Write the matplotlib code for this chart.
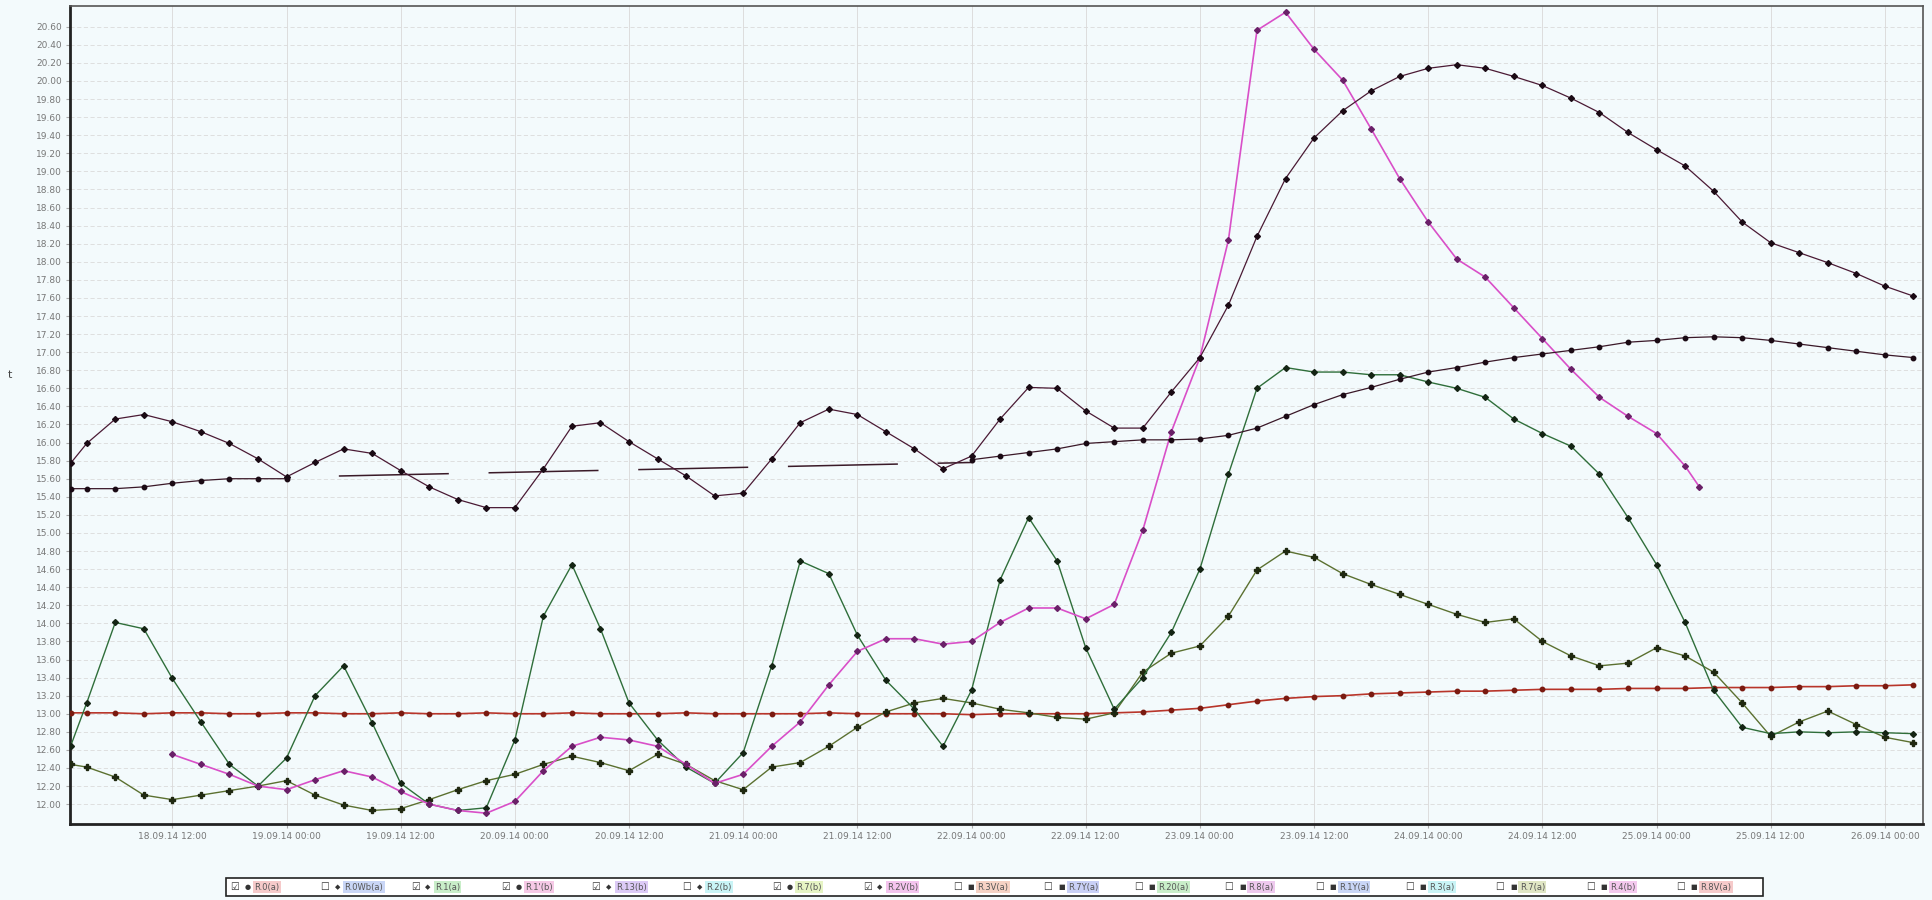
import matplotlib
matplotlib.use('Agg')
import matplotlib.pyplot as plt
from matplotlib.patches import Rectangle
import numpy as np

# ---------------------- data (hours since 18.09.14 00:00) ----------------------
hours = [1.3] + list(range(3, 196, 3))

temp_a = [15.77, 15.99, 16.26, 16.31, 16.23, 16.12, 15.99, 15.82, 15.62, 15.78,
          15.93, 15.88, 15.69, 15.51, 15.37, 15.28, 15.28, 15.71, 16.18, 16.22,
          16.01, 15.82, 15.63, 15.41, 15.44, 15.82, 16.22, 16.37, 16.31, 16.12,
          15.93, 15.71, 15.85, 16.26, 16.61, 16.60, 16.35, 16.16, 16.16, 16.56,
          16.94, 17.52, 18.28, 18.92, 19.37, 19.67, 19.89, 20.05, 20.14, 20.18,
          20.14, 20.05, 19.95, 19.81, 19.65, 19.43, 19.24, 19.06, 18.78, 18.44,
          18.21, 18.10, 17.99, 17.87, 17.73, 17.62]

hours_b1 = [1.3, 3, 6, 9, 12, 15, 18, 21, 24]
temp_b1 = [15.49, 15.49, 15.49, 15.51, 15.55, 15.58, 15.60, 15.60, 15.60]
hours_b_gap = [29.5, 96.2]
temp_b_gap = [15.63, 15.78]
hours_b2 = list(range(96, 196, 3))
temp_b2 = [15.81, 15.85, 15.89, 15.93, 15.99, 16.01, 16.03, 16.03, 16.04, 16.08,
           16.16, 16.29, 16.42, 16.53, 16.61, 16.70, 16.78, 16.83, 16.89, 16.94,
           16.98, 17.02, 17.06, 17.11, 17.13, 17.16, 17.17, 17.16, 17.13, 17.09,
           17.05, 17.01, 16.97, 16.94]

temp_c = [12.64, 13.12, 14.01, 13.94, 13.39, 12.91, 12.44, 12.20, 12.51, 13.20,
          13.53, 12.90, 12.23, 12.00, 11.93, 11.96, 12.71, 14.08, 14.65, 13.94,
          13.12, 12.71, 12.41, 12.23, 12.57, 13.53, 14.69, 14.55, 13.87, 13.37,
          13.05, 12.64, 13.26, 14.48, 15.17, 14.69, 13.73, 13.05, 13.40, 13.90,
          14.60, 15.65, 16.60, 16.83, 16.78, 16.78, 16.75, 16.75, 16.67, 16.60,
          16.50, 16.26, 16.10, 15.96, 15.65, 15.17, 14.65, 14.01, 13.26, 12.85,
          12.78, 12.80, 12.79, 12.80, 12.79, 12.78]

temp_d = [12.44, 12.41, 12.30, 12.10, 12.05, 12.10, 12.15, 12.20, 12.26, 12.10,
          11.99, 11.93, 11.95, 12.05, 12.16, 12.26, 12.33, 12.44, 12.53, 12.46,
          12.37, 12.55, 12.44, 12.26, 12.16, 12.41, 12.46, 12.64, 12.85, 13.02,
          13.12, 13.17, 13.12, 13.05, 13.01, 12.96, 12.94, 13.01, 13.46, 13.67,
          13.75, 14.08, 14.59, 14.80, 14.73, 14.55, 14.43, 14.32, 14.21, 14.10,
          14.01, 14.05, 13.80, 13.64, 13.53, 13.56, 13.73, 13.64, 13.46, 13.12,
          12.75, 12.91, 13.03, 12.88, 12.74, 12.68]

hours_e = list(range(12, 172, 3)) + [172.5]
temp_e = [12.55, 12.44, 12.33, 12.20, 12.16, 12.27, 12.37, 12.30, 12.14, 12.00,
          11.93, 11.90, 12.03, 12.37, 12.64, 12.74, 12.71, 12.64, 12.44, 12.23,
          12.33, 12.64, 12.91, 13.32, 13.69, 13.83, 13.83, 13.77, 13.80, 14.01,
          14.17, 14.17, 14.05, 14.21, 15.03, 16.12, 16.94, 18.24, 20.56, 20.76,
          20.35, 20.01, 19.47, 18.92, 18.44, 18.03, 17.83, 17.49, 17.15, 16.81,
          16.50, 16.29, 16.10, 15.74, 15.51]

temp_f = [13.01, 13.01, 13.01, 13.00, 13.01, 13.01, 13.00, 13.00, 13.01, 13.01,
          13.00, 13.00, 13.01, 13.00, 13.00, 13.01, 13.00, 13.00, 13.01, 13.00,
          13.00, 13.00, 13.01, 13.00, 13.00, 13.00, 13.00, 13.01, 13.00, 13.00,
          13.00, 13.00, 12.99, 13.00, 13.00, 13.00, 13.00, 13.01, 13.02, 13.04,
          13.06, 13.10, 13.14, 13.17, 13.19, 13.20, 13.22, 13.23, 13.24, 13.25,
          13.25, 13.26, 13.27, 13.27, 13.27, 13.28, 13.28, 13.28, 13.29, 13.29,
          13.29, 13.30, 13.30, 13.31, 13.31, 13.32]

tick_hours = list(range(12, 193, 12))
tick_labels = ['18.09.14 12:00', '19.09.14 00:00', '19.09.14 12:00', '20.09.14 00:00',
               '20.09.14 12:00', '21.09.14 00:00', '21.09.14 12:00', '22.09.14 00:00',
               '22.09.14 12:00', '23.09.14 00:00', '23.09.14 12:00', '24.09.14 00:00',
               '24.09.14 12:00', '25.09.14 00:00', '25.09.14 12:00', '26.09.14 00:00']

legend_names = ["R.0(a)", "R.0Wb(a)", "R.1(a)", "R.1'(b)", "R.13(b)", "R.2(b)", "R.7(b)",
                "R.2V(b)", "R.3V(a)", "R.7Y(a)", "R.20(a)", "R.8(a)", "R.1Y(a)", "R.3(a)",
                "R.7(a)", "R.4(b)", "R.8V(a)"]
legend_checked = [1, 0, 1, 1, 1, 0, 1, 1, 0, 0, 0, 0, 0, 0, 0, 0, 0]
legend_marks = ['●', '◆', '◆', '●', '◆', '◆', '●', '◆', '■', '■', '■', '■', '■', '■', '■', '■', '■']
legend_bg = ['#f6caca', '#c9d6f6', '#c9eec9', '#f6c9e6', '#dccaf6', '#c9f4f6', '#e6f4c4',
             '#f4c4ee', '#f6d2c4', '#c9d0f6', '#c9eec9', '#eec9ee', '#c9d6f6', '#c9f4f6',
             '#e0e6c4', '#f4c9ee', '#f6caca']

# ---------------------- plot ----------------------
bg = '#f3fafc'
fig = plt.figure(figsize=(19.33, 9.0), dpi=100, facecolor=bg)
ax = fig.add_axes([0.0362, 0.0844, 0.9586, 0.909], facecolor=bg)

ax.plot(hours, temp_f, color='#b8352a', lw=1.2, marker='o', ms=3.2, mfc='#7a1a10', mec='#7a1a10', zorder=3)
ax.plot(hours, temp_d, color='#5b7030', lw=1.0, marker='P', ms=4, mfc='#1f2810', mec='#1f2810', zorder=3)
ax.plot(hours, temp_c, color='#2f6e3a', lw=1.0, marker='D', ms=3, mfc='#142414', mec='#142414', zorder=3)
ax.plot(hours_e, temp_e, color='#d94fc8', lw=1.2, marker='D', ms=3, mfc='#6a2068', mec='#6a2068', zorder=3)
ax.plot(hours_b1, temp_b1, color='#3a1828', lw=0.9, marker='o', ms=3.2, mfc='#1a0a14', mec='#1a0a14', zorder=3)
ax.plot(hours_b_gap, temp_b_gap, color='#3a1a28', lw=1.1, linestyle=(0, (72, 26)), zorder=3)
ax.plot(hours_b2, temp_b2, color='#3a1828', lw=0.9, marker='o', ms=3.2, mfc='#1a0a14', mec='#1a0a14', zorder=3)
ax.plot(hours, temp_a, color='#4a1a34', lw=0.9, marker='D', ms=3, mfc='#1a0a14', mec='#1a0a14', zorder=4)

ax.set_xlim(1.24, 196.0)
ax.set_ylim(11.78, 20.83)
ax.set_xticks(tick_hours)
ax.set_xticklabels(tick_labels, fontsize=6.5, color='#777777')
yt = np.round(np.arange(12.0, 20.61, 0.2), 2)
ax.set_yticks(yt)
ax.set_yticklabels(['%.2f' % v for v in yt], fontsize=6.5, color='#777777')
ax.tick_params(axis='both', length=3, color='#aaaaaa', pad=3)
ax.grid(axis='y', color='#dadada', lw=0.6, linestyle=(0, (5, 3)))
ax.grid(axis='x', color='#dddddd', lw=0.7)
for s in ['left', 'bottom']:
    ax.spines[s].set_linewidth(2.0)
    ax.spines[s].set_color('#222222')
for s in ['top', 'right']:
    ax.spines[s].set_linewidth(1.2)
    ax.spines[s].set_color('#555555')

fig.text(0.004, 0.58, 't', fontsize=8, color='#444444')

# ---------------------- legend strip ----------------------
lx0, lx1, ly0, ly1 = 0.117, 0.912, 0.0044, 0.0244
fig.add_artist(Rectangle((lx0, ly0), lx1 - lx0, ly1 - ly0, transform=fig.transFigure,
                         facecolor='white', edgecolor='#222222', lw=1.2))
step = (lx1 - lx0) / len(legend_names)
ym = (ly0 + ly1) / 2
for i in range(len(legend_names)):
    x = lx0 + i * step
    box = '☑' if legend_checked[i] else '☐'
    fig.text(x + 0.002, ym, box, fontsize=7, va='center', color='#333333')
    fig.text(x + 0.0095, ym, legend_marks[i], fontsize=5, va='center', color='#333333')
    fig.text(x + 0.0145, ym, legend_names[i], fontsize=6, va='center', color='#555555',
             bbox=dict(boxstyle='square,pad=0.15', facecolor=legend_bg[i], edgecolor='none'))

fig.savefig('out.png', dpi=100, facecolor=bg)
